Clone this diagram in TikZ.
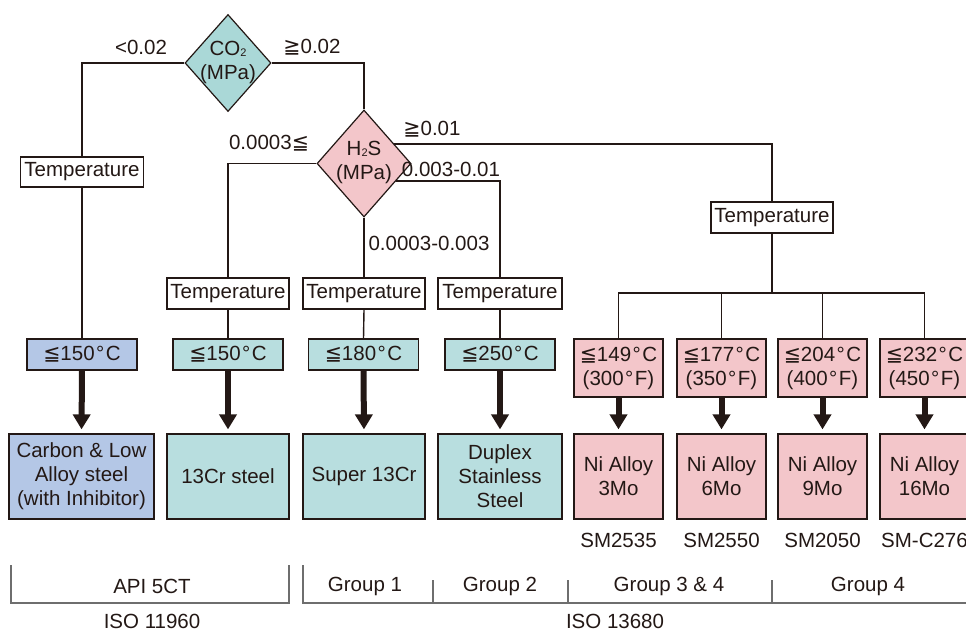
\documentclass[tikz,border=0pt]{standalone}
\usepackage{fontspec}
\setmainfont{Liberation Sans}
\newfontfamily\symfont{DejaVu Sans}
\usetikzlibrary{shapes.geometric,arrows.meta,calc}
\definecolor{ink}{RGB}{35,24,21}
\definecolor{tealf}{RGB}{184,222,223}
\definecolor{teald}{RGB}{170,216,215}
\definecolor{pinkf}{RGB}{243,198,202}
\definecolor{bluef}{RGB}{180,199,230}
\definecolor{brk}{RGB}{110,110,110}
\newcommand{\lesym}{{\symfont ≦}}
\newcommand{\gesym}{{\symfont ≧}}
\newcommand{\degC}{\kern1.5pt°\kern1.5pt C}
\newcommand{\degF}{\kern1.5pt°\kern1.5pt F}
\newcommand{\subtwo}{\raisebox{-1pt}{\fontsize{11}{11}\selectfont 2}}
\begin{document}
\begin{tikzpicture}[x=1pt,y=-1pt,
  every node/.style={font=\fontsize{20.5}{24}\selectfont, text=ink},
  conn/.style={line width=1.4pt, draw=ink},
  boxbase/.style={draw=ink, line width=1.2pt, inner sep=0pt, align=center},
  tempbox/.style={boxbase, fill=white, minimum width=122pt, minimum height=31pt},
  condbox/.style={boxbase, minimum width=110pt, minimum height=31pt},
  matbox/.style={boxbase, minimum width=122pt, minimum height=85pt},
  pcond/.style={boxbase, fill=pinkf, minimum width=89pt, minimum height=58pt},
  pmat/.style={boxbase, fill=pinkf, minimum width=89pt, minimum height=85pt},
  dia/.style={shape=diamond, draw=ink, line width=1.2pt, inner sep=0pt},
  arr/.style={draw=ink, line width=6pt, -{Triangle[length=15pt,width=17pt]}, shorten >=4pt},
  lbl/.style={inner sep=0pt},
  brack/.style={draw=brk, line width=1.2pt}
]
\useasboundingbox (0,0) rectangle (966,632);
\clip (0,0) rectangle (966,632);

% decision diamonds
\node[dia, fill=teald, minimum width=86pt, minimum height=97pt] (co2) at (228,63) {};
\node[lbl, align=center] (co2t) at (228,62) {CO\subtwo\\(MPa)};
\node[dia, fill=pinkf, minimum width=94pt, minimum height=107pt] (h2s) at (364,163.5) {};
\node[lbl, align=center] (h2st) at (364,162.5) {H\subtwo S\\(MPa)};

% left column
\node[tempbox, minimum width=123pt, minimum height=30pt] (tA) at (82,172) {Temperature};
\node[condbox, fill=bluef] (cA) at (82,354.5) {\lesym150\degC};
\node[matbox, fill=bluef, minimum width=145pt] (mA) at (81.5,476.5) {Carbon \& Low\\Alloy steel\\(with Inhibitor)};

% column B
\node[tempbox] (tB) at (228,293.5) {Temperature};
\node[condbox, fill=tealf] (cB) at (228,354.5) {\lesym150\degC};
\node[matbox, fill=tealf] (mB) at (228,476.5) {13Cr steel};

% column C
\node[tempbox] (tC) at (364,293.5) {Temperature};
\node[condbox, fill=tealf] (cC) at (363.5,354.5) {\lesym180\degC};
\node[matbox, fill=tealf] (mC) at (364,476.5) {Super 13Cr};

% column D
\node[tempbox, minimum width=124pt] (tD) at (500,293.5) {Temperature};
\node[condbox, fill=tealf] (cD) at (500,354.5) {\lesym250\degC};
\node[matbox, fill=tealf, minimum width=124pt] (mD) at (500,476.5) {Duplex\\Stainless\\Steel};

% right branch
\node[tempbox] (tR) at (772,217.5) {Temperature};
\coordinate (bus) at (772,293);
\node[pcond] (p1) at (618.5,368) {\lesym149\degC\\(300\degF)};
\node[pcond] (p2) at (721.5,368) {\lesym177\degC\\(350\degF)};
\node[pcond] (p3) at (822.5,368) {\lesym204\degC\\(400\degF)};
\node[pcond] (p4) at (924.5,368) {\lesym232\degC\\(450\degF)};
\node[pmat] (q1) at (618.5,476.5) {Ni Alloy\\3Mo};
\node[pmat] (q2) at (721.5,476.5) {Ni Alloy\\6Mo};
\node[pmat] (q3) at (822.5,476.5) {Ni Alloy\\9Mo};
\node[pmat] (q4) at (924.5,476.5) {Ni Alloy\\16Mo};
\node[lbl] (s1) at (618.5,540) {SM2535};
\node[lbl] (s2) at (721.5,540) {SM2550};
\node[lbl] (s3) at (822.5,540) {SM2050};
\node[lbl, anchor=west] (s4) at (881,540) {SM-C276};

% connectors
\draw[conn] (co2.west) -| (tA.north);
\draw[conn] (co2.east) -| (h2s.north);
\draw[conn] (tA.south) -- (cA.north);
\draw[conn] (h2s.west) -| (tB.north);
\draw[conn] (tB.south) -- (cB.north);
\draw[conn] (h2s.south) -- (tC.north);
\draw[conn] (tC.south) -- (cC.north);
\coordinate (hs1) at ($(h2s.east)!0.327!(h2s.south)$);
\coordinate (hs2) at ($(h2s.east)!0.364!(h2s.north)$);
\draw[conn] (hs1) -| (tD.north);
\draw[conn] (tD.south) -- (cD.north);
\draw[conn] (hs2) -| (tR.north);
\draw[conn] (tR.south) -- (bus);
\draw[conn] (p1.north) |- (bus) -| (p4.north);
\draw[conn] (p2.north) -- (p2.north |- bus);
\draw[conn] (p3.north) -- (p3.north |- bus);

% thick arrows
\draw[arr] (cA.south) -- (mA.north);
\draw[arr] (cB.south) -- (mB.north);
\draw[arr] (cC.south) -- (mC.north);
\draw[arr] (cD.south) -- (mD.north);
\draw[arr] (p1.south) -- (q1.north);
\draw[arr] (p2.south) -- (q2.north);
\draw[arr] (p3.south) -- (q3.north);
\draw[arr] (p4.south) -- (q4.north);

% branch labels
\node[lbl] (l1) at (141,47) {<0.02};
\node[lbl] (l2) at (312,47) {\gesym0.02};
\node[lbl] (l3) at (432,129) {\gesym0.01};
\node[lbl] (l4) at (269,143) {0.0003\lesym};
\node[lbl] (l5) at (451,169) {0.003-0.01};
\node[lbl] (l6) at (429,243) {0.0003-0.003};

% bottom brackets
\coordinate (b1a) at (11,565);
\coordinate (b1b) at (289,565);
\coordinate (b2a) at (303,565);
\coordinate (b2b) at (970,603);
\draw[brack] (b1a) -- (11,603) -- (289,603) -- (b1b);
\draw[brack] (b2a) -- (303,603) -- (b2b);
\draw[brack] (433,580) -- (433,603);
\draw[brack] (568,580) -- (568,603);
\draw[brack] (772,580) -- (772,603);
\node[lbl] (g0) at (152,586) {API 5CT};
\node[lbl] (g1) at (365,586) {Group 1};
\node[lbl] (g2) at (500,586) {Group 2};
\node[lbl] (g3) at (669,586) {Group 3 \& 4};
\node[lbl] (g4) at (868,586) {Group 4};
\node[lbl] (i1) at (152,621) {ISO 11960};
\node[lbl] (i2) at (615,621) {ISO 13680};
\end{tikzpicture}
\end{document}
